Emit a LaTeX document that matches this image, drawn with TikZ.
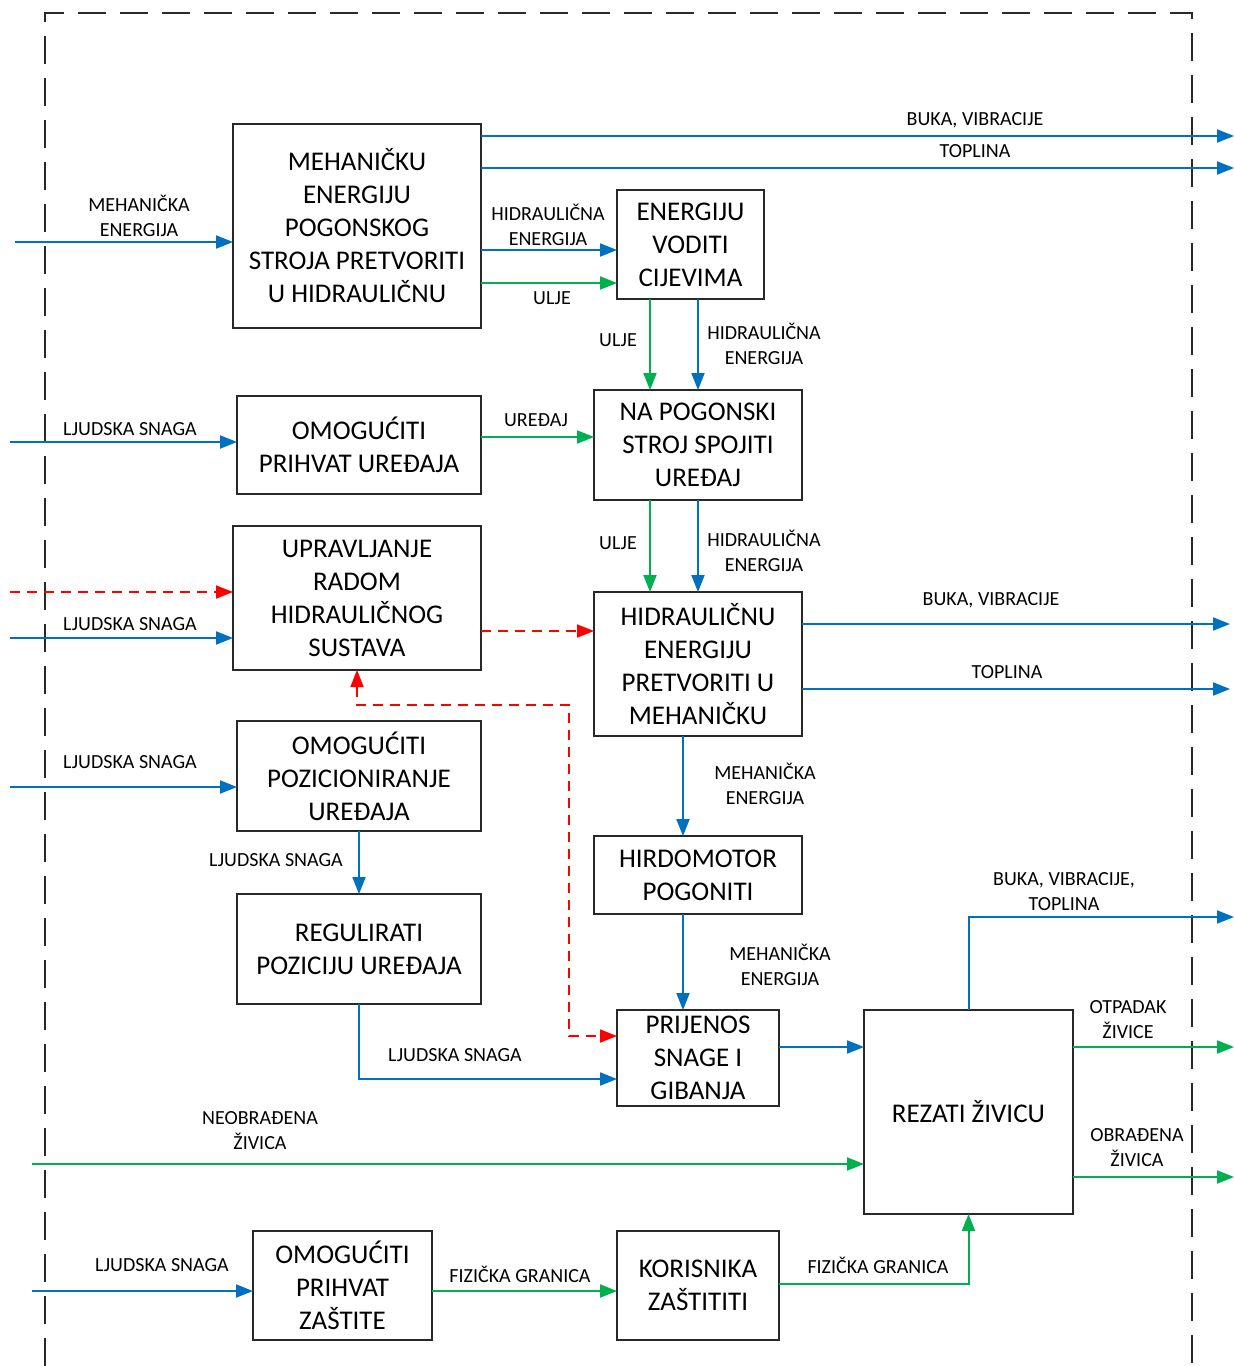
\documentclass[tikz,border=0pt]{standalone}
\usepackage{fontspec}
\setmainfont{Carlito}
\usetikzlibrary{arrows.meta}
\definecolor{blu}{RGB}{0,112,192}
\definecolor{grn}{RGB}{0,176,80}
\definecolor{rd}{RGB}{255,0,0}
\definecolor{brd}{RGB}{40,40,40}
\newcommand{\boxfnt}{\fontsize{27}{33}\selectfont}
\newcommand{\lblfnt}{\fontsize{20}{25}\selectfont}
\tikzset{
  fbox/.style={draw=brd, line width=1.8pt, align=center, font=\boxfnt, inner sep=0pt, outer sep=0pt},
  lbl/.style={align=center, font=\lblfnt, inner sep=0pt},
  tip/.style={-{Triangle[length=17pt,width=13pt]}},
  bflow/.style={draw=blu, line width=2pt, tip},
  gflow/.style={draw=grn, line width=2pt, tip},
  rflow/.style={draw=rd, line width=1.8pt, dash pattern=on 10pt off 7pt},
  frame/.style={draw=brd, line width=2.2pt, dash pattern=on 28pt off 14pt}
}
\begin{document}
\begin{tikzpicture}[x=1pt,y=-1pt]
\useasboundingbox (0,0) rectangle (1234,1366);
% frame
\draw[frame] (45,1366) -- (45,13) -- (1192,13) -- (1192,1366);
% boxes
\node[fbox, minimum width=248, minimum height=204] (b1) at (357,226) {MEHANIČKU\\ENERGIJU\\POGONSKOG\\STROJA PRETVORITI\\U HIDRAULIČNU};
\node[fbox, minimum width=147, minimum height=109] (b2) at (690.5,244.5) {ENERGIJU\\VODITI\\CIJEVIMA};
\node[fbox, minimum width=244, minimum height=98] (b3) at (359,445) {OMOGUĆITI\\PRIHVAT UREĐAJA};
\node[fbox, minimum width=208, minimum height=110] (b4) at (698,445) {NA POGONSKI\\STROJ SPOJITI\\UREĐAJ};
\node[fbox, minimum width=248, minimum height=144] (b5) at (357,598) {UPRAVLJANJE\\RADOM\\HIDRAULIČNOG\\SUSTAVA};
\node[fbox, minimum width=208, minimum height=144] (b6) at (698,664) {HIDRAULIČNU\\ENERGIJU\\PRETVORITI U\\MEHANIČKU};
\node[fbox, minimum width=244, minimum height=110] (b7) at (359,776) {OMOGUĆITI\\POZICIONIRANJE\\UREĐAJA};
\node[fbox, minimum width=208, minimum height=78] (b8) at (698,875) {HIRDOMOTOR\\POGONITI};
\node[fbox, minimum width=244, minimum height=110] (b9) at (359,949) {REGULIRATI\\POZICIJU UREĐAJA};
\node[fbox, minimum width=162, minimum height=96] (b10) at (698,1058) {PRIJENOS\\SNAGE I\\GIBANJA};
\node[fbox, minimum width=209, minimum height=204] (b11) at (968.5,1112) {REZATI ŽIVICU};
\node[fbox, minimum width=179, minimum height=109] (b12) at (342.5,1285.5) {OMOGUĆITI\\PRIHVAT\\ZAŠTITE};
\node[fbox, minimum width=162, minimum height=109] (b13) at (698,1285.5) {KORISNIKA\\ZAŠTITITI};
% free ends
\coordinate (in1) at (15,242);
\coordinate (out1) at (1234,136);
\coordinate (out2) at (1234,168);
\coordinate (in3) at (10,442);
\coordinate (in5r) at (10,592);
\coordinate (in5) at (10,638);
\coordinate (out6a) at (1230,624);
\coordinate (out6b) at (1230,689);
\coordinate (in7) at (10,787);
\coordinate (in11) at (32,1164);
\coordinate (out11a) at (1234,917);
\coordinate (out11b) at (1234,1047);
\coordinate (out11c) at (1234,1177);
\coordinate (in12) at (32,1291);
% connectors
\draw[bflow] (in1) -- (b1.west |- in1);
\draw[bflow] (b1.east |- out1) -- (out1);
\draw[bflow] (b1.east |- out2) -- (out2);
\draw[bflow] (b1.east |- 0,250) -- (b2.west |- 0,250);
\draw[gflow] (b1.east |- 0,283) -- (b2.west |- 0,283);
\draw[gflow] (b2.south -| 650,0) -- (b4.north -| 650,0);
\draw[bflow] (b2.south -| 698,0) -- (b4.north -| 698,0);
\draw[bflow] (in3) -- (b3.west |- in3);
\draw[gflow] (b3.east |- 0,437) -- (b4.west |- 0,437);
\draw[gflow] (b4.south -| 650,0) -- (b6.north -| 650,0);
\draw[bflow] (b4.south -| 698,0) -- (b6.north -| 698,0);
\draw[rflow, tip] (in5r) -- (b5.west |- in5r);
\draw[bflow] (in5) -- (b5.west |- in5);
\draw[rflow, tip] (b5.east |- 0,631) -- (b6.west |- 0,631);
\draw[bflow] (b6.east |- out6a) -- (out6a);
\draw[bflow] (b6.east |- out6b) -- (out6b);
\draw[bflow] (b6.south -| 683,0) -- (b8.north -| 683,0);
\draw[bflow] (in7) -- (b7.west |- in7);
\draw[bflow] (b7.south) -- (b9.north);
\draw[rflow, {Triangle[length=17pt,width=13pt]}-{Triangle[length=17pt,width=13pt]}] (b5.south) -- (b5.south |- 0,705) -- (569,705) -- (569,1036) -- (b10.west |- 0,1036);
\draw[bflow] (b8.south -| 683,0) -- (b10.north -| 683,0);
\draw[bflow] (b9.south) -- (b9.south |- 0,1079) -- (b10.west |- 0,1079);
\draw[bflow] (b10.east |- 0,1047) -- (b11.west |- 0,1047);
\draw[gflow] (in11) -- (b11.west |- in11);
\draw[bflow] (b11.north) -- (b11.north |- out11a) -- (out11a);
\draw[gflow] (b11.east |- out11b) -- (out11b);
\draw[gflow] (b11.east |- out11c) -- (out11c);
\draw[bflow] (in12) -- (b12.west |- in12);
\draw[gflow] (b12.east |- in12) -- (b13.west |- in12);
\draw[gflow] (b13.east |- 0,1284) -- (b11.south |- 0,1284) -- (b11.south);
% labels
\node[lbl] (l1) at (139,216) {MEHANIČKA\\ENERGIJA};
\node[lbl] (l2) at (975,120) {BUKA, VIBRACIJE};
\node[lbl] (l3) at (975,151) {TOPLINA};
\node[lbl] (l4) at (548,225) {HIDRAULIČNA\\ENERGIJA};
\node[lbl] (l5) at (552,298) {ULJE};
\node[lbl] (l6) at (618,340) {ULJE};
\node[lbl] (l7) at (764,344) {HIDRAULIČNA\\ENERGIJA};
\node[lbl] (l8) at (130,429) {LJUDSKA SNAGA};
\node[lbl] (l9) at (536,420) {UREĐAJ};
\node[lbl] (l10) at (618,543) {ULJE};
\node[lbl] (l11) at (764,551) {HIDRAULIČNA\\ENERGIJA};
\node[lbl] (l12) at (130,624) {LJUDSKA SNAGA};
\node[lbl] (l13) at (991,600) {BUKA, VIBRACIJE};
\node[lbl] (l14) at (1007,672) {TOPLINA};
\node[lbl] (l15) at (765,784) {MEHANIČKA\\ENERGIJA};
\node[lbl] (l16) at (130,762) {LJUDSKA SNAGA};
\node[lbl] (l17) at (276,860) {LJUDSKA SNAGA};
\node[lbl] (l18) at (780,965) {MEHANIČKA\\ENERGIJA};
\node[lbl] (l19) at (455,1055) {LJUDSKA SNAGA};
\node[lbl] (l20) at (260,1131) {NEOBRAĐENA\\ŽIVICA};
\node[lbl] (l21) at (1064,892) {BUKA, VIBRACIJE,\\TOPLINA};
\node[lbl] (l22) at (1128,1020) {OTPADAK\\ŽIVICE};
\node[lbl] (l23) at (1137,1148) {OBRAĐENA\\ŽIVICA};
\node[lbl] (l24) at (162,1265) {LJUDSKA SNAGA};
\node[lbl] (l25) at (520,1274) {FIZIČKA GRANICA};
\node[lbl] (l26) at (878,1265) {FIZIČKA GRANICA};
\end{tikzpicture}
\end{document}
